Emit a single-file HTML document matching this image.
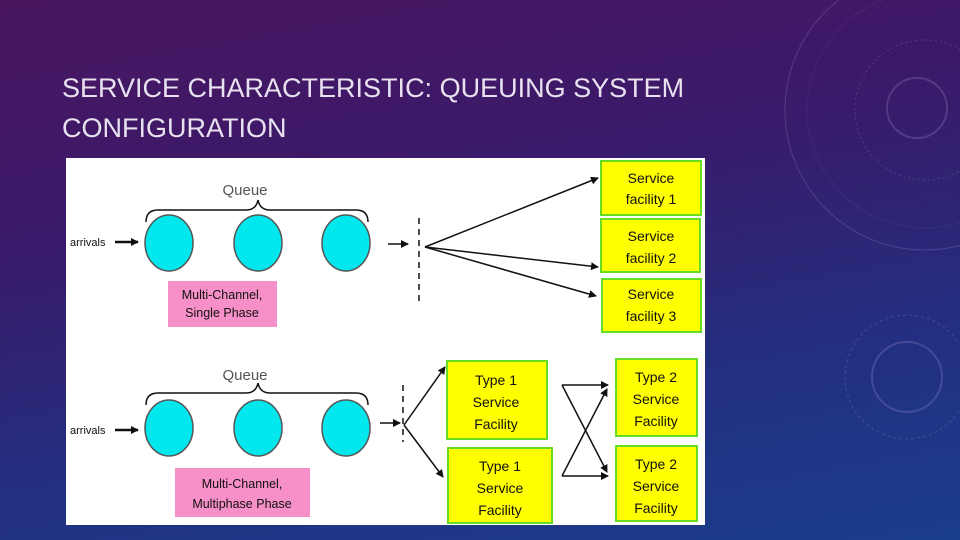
<!DOCTYPE html>
<html><head><meta charset="utf-8"><style>
html,body{margin:0;padding:0}
body{width:960px;height:540px;overflow:hidden;background:linear-gradient(170deg,#4a1660 0%,#3a1a6a 35%,#232f80 70%,#1a3d8c 100%);font-family:"Liberation Sans",sans-serif;position:relative}
.t{position:absolute;left:62px;top:68px;color:#e8e2f0;font-size:27px;line-height:40px;letter-spacing:0;font-weight:normal}
svg{position:absolute;left:0;top:0}
</style></head><body>
<svg width="960" height="540" viewBox="0 0 960 540">
<g fill="none" stroke="#b9a8e0" stroke-opacity="0.22">
<circle cx="925" cy="110" r="140"/>
<circle cx="925" cy="110" r="118" stroke-dasharray="1 2"/>
<circle cx="925" cy="110" r="70" stroke-dasharray="2 3"/>
<circle cx="917" cy="108" r="30" stroke-width="2"/>
<circle cx="907" cy="377" r="35" stroke-width="2"/>
<circle cx="907" cy="377" r="62" stroke-dasharray="3 3"/>
</g>
<rect x="66" y="158" width="639" height="367" fill="#fff"/>
<g font-family="Liberation Sans,sans-serif" fill="#111">
<text x="245" y="195" font-size="15" text-anchor="middle" fill="#555">Queue</text>
<text x="245" y="380" font-size="15" text-anchor="middle" fill="#555">Queue</text>
<path d="M146 222 Q146 210 158 210 L246 210 Q256 210 258 200 Q260 210 270 210 L356 210 Q368 210 368 222" fill="none" stroke="#111" stroke-width="1.5"/>
<path d="M146 405 Q146 393 158 393 L246 393 Q256 393 258 383 Q260 393 270 393 L356 393 Q368 393 368 405" fill="none" stroke="#111" stroke-width="1.5"/>
<g fill="#00e8ee" stroke="#555" stroke-width="1.5">
<ellipse cx="169" cy="243" rx="24" ry="28"/><ellipse cx="258" cy="243" rx="24" ry="28"/><ellipse cx="346" cy="243" rx="24" ry="28"/>
<ellipse cx="169" cy="428" rx="24" ry="28"/><ellipse cx="258" cy="428" rx="24" ry="28"/><ellipse cx="346" cy="428" rx="24" ry="28"/>
</g>
<text x="70" y="246" font-size="11">arrivals</text>
<text x="70" y="434" font-size="11">arrivals</text>
<defs><marker id="a" markerWidth="8" markerHeight="8" refX="7" refY="4" orient="auto" markerUnits="userSpaceOnUse"><path d="M0 0 L8 4 L0 8z" fill="#111"/></marker></defs>
<g stroke="#111" stroke-width="1.5" marker-end="url(#a)">
<line x1="115" y1="242" x2="138" y2="242" stroke-width="2.5"/>
<line x1="115" y1="430" x2="138" y2="430" stroke-width="2.5"/>
<line x1="388" y1="244" x2="408" y2="244"/>
<line x1="380" y1="423" x2="400" y2="423"/>
<line x1="425" y1="247" x2="598" y2="178"/>
<line x1="425" y1="247" x2="598" y2="267"/>
<line x1="425" y1="247" x2="596" y2="296"/>
<line x1="404" y1="425" x2="445" y2="367"/>
<line x1="404" y1="425" x2="443" y2="477"/>
<line x1="562" y1="385" x2="608" y2="385"/>
<line x1="562" y1="476" x2="608" y2="476"/>
<line x1="562" y1="385" x2="607" y2="472"/>
<line x1="562" y1="476" x2="607" y2="389"/>
</g>
<line x1="419" y1="218" x2="419" y2="304" stroke="#111" stroke-width="1.5" stroke-dasharray="6 5"/>
<line x1="403" y1="385" x2="403" y2="442" stroke="#111" stroke-width="1.5" stroke-dasharray="6 5"/>
<rect x="168" y="281" width="109" height="46" fill="#f78fc8"/>
<text x="222" y="299" font-size="12.5" text-anchor="middle">Multi-Channel,</text>
<text x="222" y="317" font-size="12.5" text-anchor="middle">Single Phase</text>
<rect x="175" y="468" width="135" height="49" fill="#f78fc8"/>
<text x="242" y="488" font-size="12.5" text-anchor="middle">Multi-Channel,</text>
<text x="242" y="508" font-size="12.5" text-anchor="middle">Multiphase Phase</text>
<g fill="#ffff00" stroke="#66dd22" stroke-width="2">
<rect x="601" y="161" width="100" height="54"/><rect x="601" y="219" width="99" height="53"/><rect x="602" y="279" width="99" height="53"/>
<rect x="447" y="361" width="100" height="78"/><rect x="448" y="448" width="104" height="75"/>
<rect x="616" y="359" width="81" height="77"/><rect x="616" y="446" width="81" height="75"/>
</g>
<g font-size="14" text-anchor="middle">
<text x="651" y="183">Service</text><text x="651" y="204">facility 1</text>
<text x="651" y="241">Service</text><text x="651" y="263">facility 2</text>
<text x="651" y="299">Service</text><text x="651" y="321">facility 3</text>
<text x="496" y="385">Type 1</text><text x="496" y="407">Service</text><text x="496" y="429">Facility</text>
<text x="500" y="471">Type 1</text><text x="500" y="493">Service</text><text x="500" y="515">Facility</text>
<text x="656" y="382">Type 2</text><text x="656" y="404">Service</text><text x="656" y="426">Facility</text>
<text x="656" y="469">Type 2</text><text x="656" y="491">Service</text><text x="656" y="513">Facility</text>
</g>
</g>
</svg>
<div class="t">SERVICE CHARACTERISTIC: QUEUING SYSTEM<br>CONFIGURATION</div>
</body></html>
